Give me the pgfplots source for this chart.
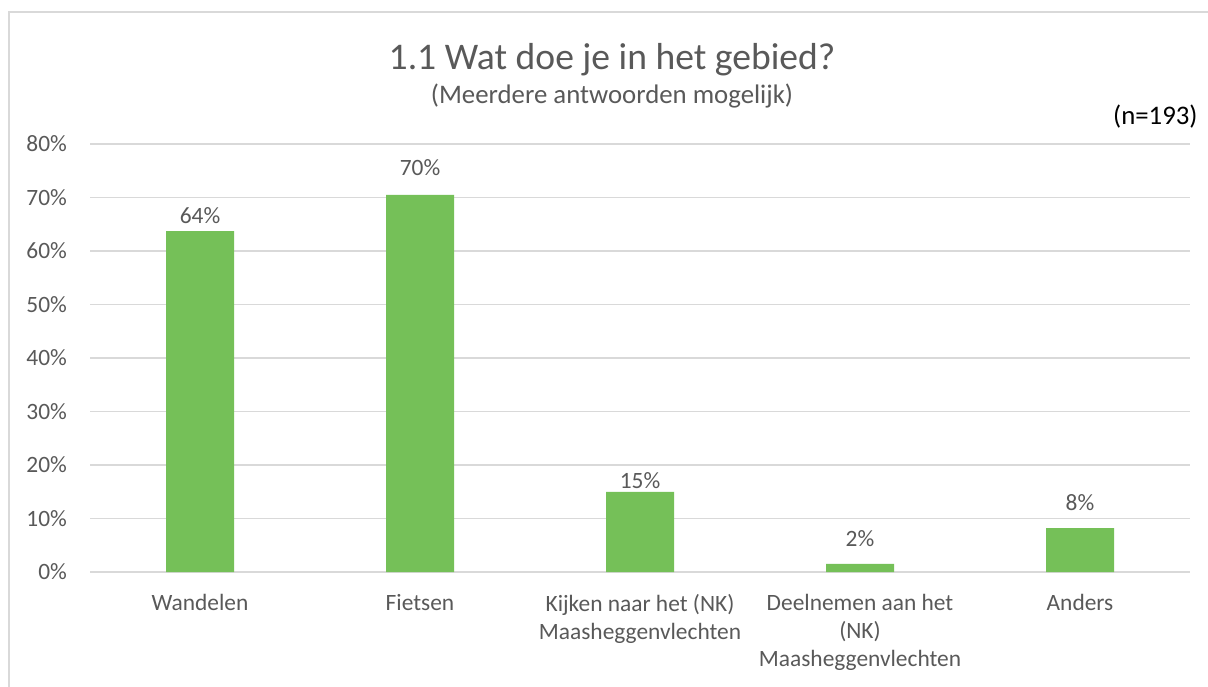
\documentclass[border=0pt]{standalone}
\usepackage{pgfplots}
\pgfplotsset{compat=1.18}
\usepackage{fontspec}
\setmainfont{Carlito}
\definecolor{txt}{HTML}{595959}
\definecolor{gridc}{HTML}{D9D9D9}
\definecolor{bargreen}{HTML}{75C058}
\begin{document}
\begin{tikzpicture}
\useasboundingbox (0,0) rectangle (604pt,343pt);
\fill[white] (0,0) rectangle (604pt,343pt);
\draw[gridc, line width=0.8pt] (4.6pt,-5pt) -- (4.6pt,337pt) -- (620pt,337pt);
\begin{axis}[
  at={(45pt,57pt)}, anchor=south west,
  width=550pt, height=214pt, scale only axis,
  xmin=-0.5, xmax=4.5, ymin=0, ymax=80,
  axis line style={draw=none},
  axis x line*=bottom,
  xtick={0,1,2,3,4},
  xticklabels={Wandelen, Fietsen, {Kijken naar het (NK)\\Maasheggenvlechten}, {Deelnemen aan het\\(NK)\\Maasheggenvlechten}, Anders},
  xticklabel style={align=center, font=\fontsize{11.7}{14}\selectfont, text=txt, yshift=-7.5pt},
  ytick={0,10,...,80},
  yticklabel={\pgfmathprintnumber{\tick}\%},
  yticklabel style={font=\fontsize{11.7}{14}\selectfont, text=txt, xshift=-8pt},
  /pgf/number format/assume math mode=true,
  major tick length=0pt,
  ymajorgrids, grid style={gridc, line width=0.8pt},
  clip=false,
]
\addplot[ybar, bar width=34pt, fill=bargreen, draw=none] coordinates {(0,63.7) (1,70.5) (2,15.0) (3,1.5) (4,8.2)};
\addplot[only marks, mark=none, point meta=explicit symbolic,
  nodes near coords, nodes near coords style={anchor=center, font=\fontsize{11.7}{14}\selectfont, text=txt}]
  coordinates {(0,66.7)[64\%] (1,75.5)[70\%] (2,17.0)[15\%] (3,6.2)[2\%] (4,12.9)[8\%]};
\end{axis}
\node[text=txt, font=\fontsize{18.8}{22}\selectfont] at (306pt,313pt) {1.1 Wat doe je in het gebied?};
\node[text=txt, font=\fontsize{13.4}{16}\selectfont] at (306pt,295pt) {(Meerdere antwoorden mogelijk)};
\node[text=black, font=\fontsize{13.4}{16}\selectfont, anchor=east, inner sep=0pt] at (599pt,284.5pt) {(n=193)};
\end{tikzpicture}
\end{document}
